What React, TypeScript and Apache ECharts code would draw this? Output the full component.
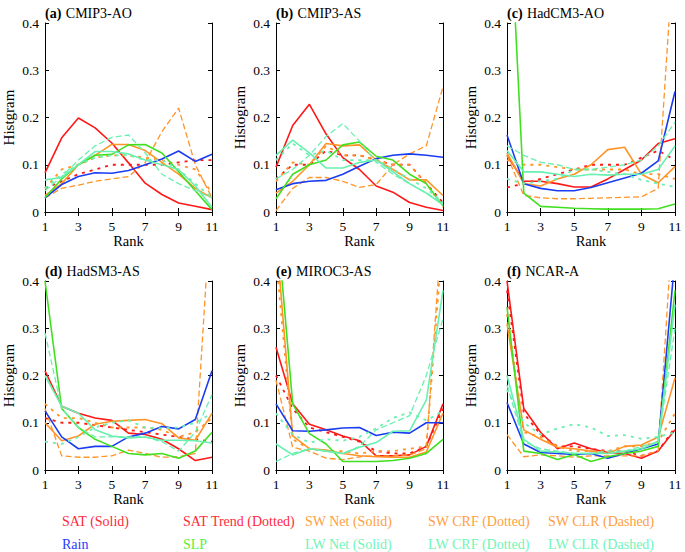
import React, { useEffect, useRef } from "react";
import * as echarts from "echarts";

const RANKS = ["1", "2", "3", "4", "5", "6", "7", "8", "9", "10", "11"];
const PANEL_TAGS = ["(a)", "(b)", "(c)", "(d)", "(e)", "(f)"];
const PANEL_NAMES = ["CMIP3-AO", "CMIP3-AS", "HadCM3-AO", "HadSM3-AS", "MIROC3-AS", "NCAR-A"];
const Y_NAMES = ["Histgram", "Histogram", "Histogram", "Histogram", "Histogram", "Histogram"];

// each array: panels a..f, 11 ranks
const SAT = [
  [0.083, 0.157, 0.199, 0.178, 0.146, 0.104, 0.061, 0.037, 0.019, 0.012, 0.005],
  [0.095, 0.183, 0.228, 0.165, 0.115, 0.09, 0.055, 0.042, 0.02, 0.01, 0.003],
  [0.12, 0.065, 0.065, 0.06, 0.053, 0.053, 0.07, 0.09, 0.11, 0.145, 0.155],
  [0.21, 0.135, 0.12, 0.11, 0.105, 0.078, 0.075, 0.065, 0.045, 0.02, 0.027],
  [0.26, 0.14, 0.097, 0.085, 0.072, 0.062, 0.03, 0.03, 0.032, 0.05, 0.14],
  [0.4, 0.13, 0.08, 0.045, 0.057, 0.045, 0.037, 0.035, 0.025, 0.04, 0.085],
];
const SAT_TREND = [
  [0.05, 0.065, 0.08, 0.09, 0.1, 0.1, 0.1, 0.1, 0.105, 0.11, 0.11],
  [0.07, 0.1, 0.1, 0.13, 0.12, 0.12, 0.11, 0.1, 0.1, 0.06, 0.02],
  [0.052, 0.06, 0.07, 0.08, 0.09, 0.1, 0.1, 0.1, 0.115, 0.13, 0.11],
  [0.11, 0.1, 0.1, 0.095, 0.09, 0.085, 0.08, 0.075, 0.07, 0.065, 0.06],
  [0.2, 0.13, 0.09, 0.08, 0.07, 0.06, 0.04, 0.035, 0.035, 0.05, 0.13],
  [0.38, 0.12, 0.075, 0.05, 0.05, 0.045, 0.04, 0.04, 0.03, 0.04, 0.09],
];
const SW_NET = [
  [0.035, 0.06, 0.1, 0.12, 0.143, 0.143, 0.13, 0.105, 0.08, 0.05, 0.03],
  [0.04, 0.065, 0.1, 0.145, 0.14, 0.142, 0.11, 0.09, 0.068, 0.068, 0.035],
  [0.125, 0.06, 0.055, 0.07, 0.08, 0.1, 0.132, 0.137, 0.08, 0.062, 0.096],
  [0.1, 0.062, 0.072, 0.097, 0.103, 0.105, 0.107, 0.098, 0.068, 0.063, 0.12],
  [0.5, 0.072, 0.045, 0.042, 0.035, 0.03, 0.028, 0.027, 0.027, 0.038, 0.12],
  [0.31, 0.085, 0.065, 0.048, 0.045, 0.04, 0.035, 0.05, 0.053, 0.07, 0.195],
];
const SW_CRF = [
  [0.05, 0.09, 0.1, 0.115, 0.12, 0.12, 0.115, 0.11, 0.1, 0.09, 0.04],
  [0.065, 0.105, 0.1, 0.14, 0.12, 0.12, 0.11, 0.1, 0.1, 0.06, 0.01],
  [0.11, 0.1, 0.1, 0.095, 0.09, 0.09, 0.09, 0.09, 0.08, 0.08, 0.07],
  [0.14, 0.11, 0.11, 0.1, 0.09, 0.09, 0.09, 0.085, 0.07, 0.08, 0.11],
  [0.45, 0.065, 0.045, 0.04, 0.04, 0.035, 0.04, 0.04, 0.045, 0.05, 0.5],
  [0.33, 0.08, 0.07, 0.05, 0.04, 0.04, 0.04, 0.05, 0.05, 0.06, 0.12],
];
const SW_CLR = [
  [0.03, 0.05, 0.057, 0.065, 0.07, 0.075, 0.105, 0.17, 0.22, 0.1, 0.03],
  [0.003, 0.05, 0.073, 0.073, 0.065, 0.052, 0.058, 0.1, 0.123, 0.14, 0.265],
  [0.12, 0.035, 0.03, 0.028, 0.028, 0.029, 0.03, 0.031, 0.032, 0.05, 0.6],
  [0.13, 0.03, 0.027, 0.027, 0.03, 0.042, 0.035, 0.027, 0.028, 0.035, 0.6],
  [0.19, 0.048, 0.04, 0.025, 0.022, 0.028, 0.03, 0.03, 0.032, 0.045, 0.55],
  [0.075, 0.028, 0.032, 0.03, 0.027, 0.03, 0.03, 0.03, 0.03, 0.04, 0.6],
];
const RAIN = [
  [0.03, 0.058, 0.075, 0.083, 0.082, 0.088, 0.1, 0.112, 0.129, 0.107, 0.122],
  [0.047, 0.06, 0.065, 0.067, 0.08, 0.097, 0.113, 0.12, 0.123, 0.12, 0.116],
  [0.163, 0.06, 0.05, 0.045, 0.045, 0.052, 0.062, 0.072, 0.082, 0.108, 0.255],
  [0.125, 0.07, 0.045, 0.05, 0.05, 0.07, 0.078, 0.092, 0.087, 0.107, 0.21],
  [0.14, 0.083, 0.082, 0.085, 0.089, 0.09, 0.073, 0.08, 0.078, 0.1, 0.1],
  [0.143, 0.055, 0.037, 0.035, 0.033, 0.035, 0.025, 0.035, 0.045, 0.055, 0.45],
];
const SLP = [
  [0.03, 0.07, 0.1, 0.12, 0.122, 0.142, 0.143, 0.125, 0.085, 0.045, 0.005],
  [0.028, 0.08, 0.1, 0.11, 0.142, 0.148, 0.118, 0.11, 0.08, 0.06, 0.013],
  [0.76, 0.04, 0.012, 0.01, 0.008, 0.007, 0.006, 0.006, 0.006, 0.007, 0.017],
  [0.4, 0.13, 0.09, 0.065, 0.05, 0.035, 0.032, 0.035, 0.025, 0.04, 0.08],
  [0.55, 0.14, 0.077, 0.055, 0.018, 0.018, 0.018, 0.02, 0.025, 0.035, 0.065],
  [0.345, 0.04, 0.035, 0.022, 0.033, 0.018, 0.028, 0.035, 0.04, 0.05, 0.38],
];
const LW_NET = [
  [0.068, 0.073, 0.1, 0.128, 0.128, 0.123, 0.11, 0.1, 0.09, 0.055, 0.01],
  [0.12, 0.152, 0.125, 0.093, 0.093, 0.105, 0.11, 0.085, 0.06, 0.04, 0.015],
  [0.13, 0.085, 0.085, 0.08, 0.075, 0.08, 0.078, 0.08, 0.08, 0.09, 0.14],
  [0.2, 0.135, 0.12, 0.085, 0.072, 0.068, 0.07, 0.063, 0.063, 0.062, 0.057],
  [0.055, 0.032, 0.045, 0.04, 0.035, 0.048, 0.058, 0.082, 0.083, 0.148, 0.38],
  [0.2, 0.065, 0.04, 0.038, 0.035, 0.035, 0.035, 0.04, 0.045, 0.06, 0.35],
];
const LW_CRF = [
  [0.05, 0.08, 0.1, 0.115, 0.12, 0.12, 0.11, 0.11, 0.09, 0.06, 0.03],
  [0.11, 0.145, 0.12, 0.13, 0.11, 0.11, 0.11, 0.09, 0.07, 0.05, 0.02],
  [0.07, 0.06, 0.065, 0.07, 0.09, 0.09, 0.085, 0.08, 0.068, 0.06, 0.053],
  [0.06, 0.055, 0.07, 0.09, 0.1, 0.105, 0.09, 0.088, 0.09, 0.1, 0.12],
  [0.12, 0.075, 0.058, 0.065, 0.062, 0.07, 0.088, 0.11, 0.122, 0.105, 0.125],
  [0.17, 0.1, 0.075, 0.088, 0.097, 0.09, 0.072, 0.074, 0.066, 0.07, 0.08],
];
const LW_CLR = [
  [0.045, 0.075, 0.11, 0.14, 0.158, 0.163, 0.125, 0.08, 0.06, 0.045, 0.03],
  [0.07, 0.09, 0.12, 0.16, 0.187, 0.15, 0.105, 0.08, 0.06, 0.04, 0.02],
  [0.14, 0.12, 0.105, 0.1, 0.09, 0.09, 0.095, 0.1, 0.11, 0.14, 0.19],
  [0.29, 0.13, 0.09, 0.07, 0.07, 0.07, 0.07, 0.06, 0.04, 0.08, 0.16],
  [0.018, 0.035, 0.045, 0.04, 0.035, 0.05, 0.085, 0.1, 0.115, 0.2, 0.32],
  [0.18, 0.06, 0.045, 0.04, 0.035, 0.035, 0.04, 0.04, 0.05, 0.06, 0.3],
];

const LEGEND_ROW1 = ["SAT (Solid)", "SAT Trend (Dotted)", "SW Net (Solid)", "SW CRF (Dotted)", "SW CLR (Dashed)"];
const LEGEND_ROW2 = ["Rain", "SLP", "LW Net (Solid)", "LW CRF (Dotted)", "LW CLR (Dashed)"];

const RED = "#ff1818";
const ORANGE = "#ff9428";
const BLUE = "#1a3cf2";
const GREEN = "#40e020";
const AQUA = "#68f0b0";
const FONT = "Times New Roman, Liberation Serif, serif";

const SERIES_DEFS = [
  { name: "SAT", data: SAT, color: RED, style: "solid" },
  { name: "SAT Trend", data: SAT_TREND, color: RED, style: "dotted" },
  { name: "SW Net", data: SW_NET, color: ORANGE, style: "solid" },
  { name: "SW CRF", data: SW_CRF, color: ORANGE, style: "dotted" },
  { name: "SW CLR", data: SW_CLR, color: ORANGE, style: "dashed" },
  { name: "Rain", data: RAIN, color: BLUE, style: "solid" },
  { name: "SLP", data: SLP, color: GREEN, style: "solid" },
  { name: "LW Net", data: LW_NET, color: AQUA, style: "solid" },
  { name: "LW CRF", data: LW_CRF, color: AQUA, style: "dotted" },
  { name: "LW CLR", data: LW_CLR, color: AQUA, style: "dashed" },
];

const LEGEND_COLORS_ROW1 = ["#ff2a3c", "#ff2a3c", "#ffa040", "#ffa040", "#ffa040"];
const LEGEND_COLORS_ROW2 = ["#2a3cff", "#5af03a", "#70f5b8", "#70f5b8", "#70f5b8"];

function lineStyleFor(style: string, color: string) {
  if (style === "dotted") return { color, width: 1.8, type: [3, 5] as any };
  if (style === "dashed") return { color, width: 1.3, type: [6, 3] as any };
  return { color, width: 1.6, type: "solid" as any };
}

export default function App() {
  const ref = useRef<HTMLDivElement>(null);
  useEffect(() => {
    if (!ref.current) return;
    const chart = echarts.init(ref.current, undefined, { renderer: "svg" });
    const lefts = [45, 276, 507];
    const widths = [167, 167, 168];
    const tops = [23, 281];
    const H = 189;
    const grids: any[] = [];
    for (let i = 0; i < 6; i++) {
      const r = Math.floor(i / 3);
      const c = i % 3;
      grids.push({ left: lefts[c], top: tops[r], width: widths[c], height: H, show: false, containLabel: false });
    }
    const xAxes: any[] = [];
    const yAxes: any[] = [];
    const axisLine = { show: true, lineStyle: { color: "#000", width: 1 } };
    const tick = { show: true, inside: true, length: 4, lineStyle: { color: "#000", width: 1 } };
    for (let i = 0; i < 6; i++) {
      xAxes.push({
        type: "category", gridIndex: i, data: RANKS, boundaryGap: false, position: "bottom",
        axisLine, axisTick: { ...tick, interval: 1 },
        axisLabel: { interval: 1, margin: 7, color: "#000", fontFamily: FONT, fontSize: 13.5 },
        splitLine: { show: false },
        name: "Rank", nameLocation: "middle", nameGap: 20,
        nameTextStyle: { color: "#000", fontFamily: FONT, fontSize: 14.5 },
      });
      yAxes.push({
        type: "value", gridIndex: i, min: 0, max: 0.4, interval: 0.1, position: "left",
        axisLine, axisTick: tick,
        axisLabel: { margin: 6, color: "#000", fontFamily: FONT, fontSize: 13.5, formatter: (v: number) => (v === 0 ? "0" : v.toFixed(1)) },
        splitLine: { show: false },
        name: Y_NAMES[i], nameLocation: "middle", nameGap: 29,
        nameTextStyle: { color: "#000", fontFamily: FONT, fontSize: 15 },
      });
    }
    for (let i = 0; i < 6; i++) {
      xAxes.push({
        type: "category", gridIndex: i, data: RANKS, boundaryGap: false, position: "top",
        axisLine, axisTick: { ...tick, interval: 1 }, axisLabel: { show: false }, splitLine: { show: false },
      });
      yAxes.push({
        type: "value", gridIndex: i, min: 0, max: 0.4, interval: 0.1, position: "right",
        axisLine, axisTick: tick, axisLabel: { show: false }, splitLine: { show: false },
      });
    }
    const series: any[] = [];
    for (let i = 0; i < 6; i++) {
      for (const d of SERIES_DEFS) {
        series.push({
          type: "line", name: d.name, xAxisIndex: i, yAxisIndex: i, data: d.data[i],
          showSymbol: false, symbol: "none", clip: true, silent: true,
          lineStyle: lineStyleFor(d.style, d.color), itemStyle: { color: d.color },
        });
      }
    }
    const titles = PANEL_TAGS.map((t, i) => {
      const r = Math.floor(i / 3);
      const c = i % 3;
      return {
        left: lefts[c], top: tops[r] - 19, padding: 0,
        text: `{b|${t}} {n|${PANEL_NAMES[i]}}`,
        textStyle: {
          fontFamily: FONT,
          rich: {
            b: { fontFamily: FONT, fontWeight: "bold", fontSize: 14, color: "#000", lineHeight: 16 },
            n: { fontFamily: FONT, fontWeight: "normal", fontSize: 14, color: "#000", lineHeight: 16 },
          },
        },
      };
    });
    const legendX = [62, 183, 305, 428, 548];
    const graphics: any[] = [];
    LEGEND_ROW1.forEach((t, j) => {
      graphics.push({ type: "text", x: legendX[j], y: 521, silent: true,
        style: { text: t, fill: LEGEND_COLORS_ROW1[j], fontFamily: FONT, fontSize: 14, verticalAlign: "middle", align: "left" } });
    });
    LEGEND_ROW2.forEach((t, j) => {
      graphics.push({ type: "text", x: legendX[j], y: 544, silent: true,
        style: { text: t, fill: LEGEND_COLORS_ROW2[j], fontFamily: FONT, fontSize: 14, verticalAlign: "middle", align: "left" } });
    });
    chart.setOption({
      animation: false,
      backgroundColor: "#fff",
      textStyle: { fontFamily: FONT },
      title: titles,
      grid: grids,
      xAxis: xAxes,
      yAxis: yAxes,
      series,
      graphic: graphics,
    });
    return () => chart.dispose();
  }, []);
  return <div ref={ref} style={{ position: "absolute", left: 0, top: 0, width: 685, height: 552 }} />;
}
